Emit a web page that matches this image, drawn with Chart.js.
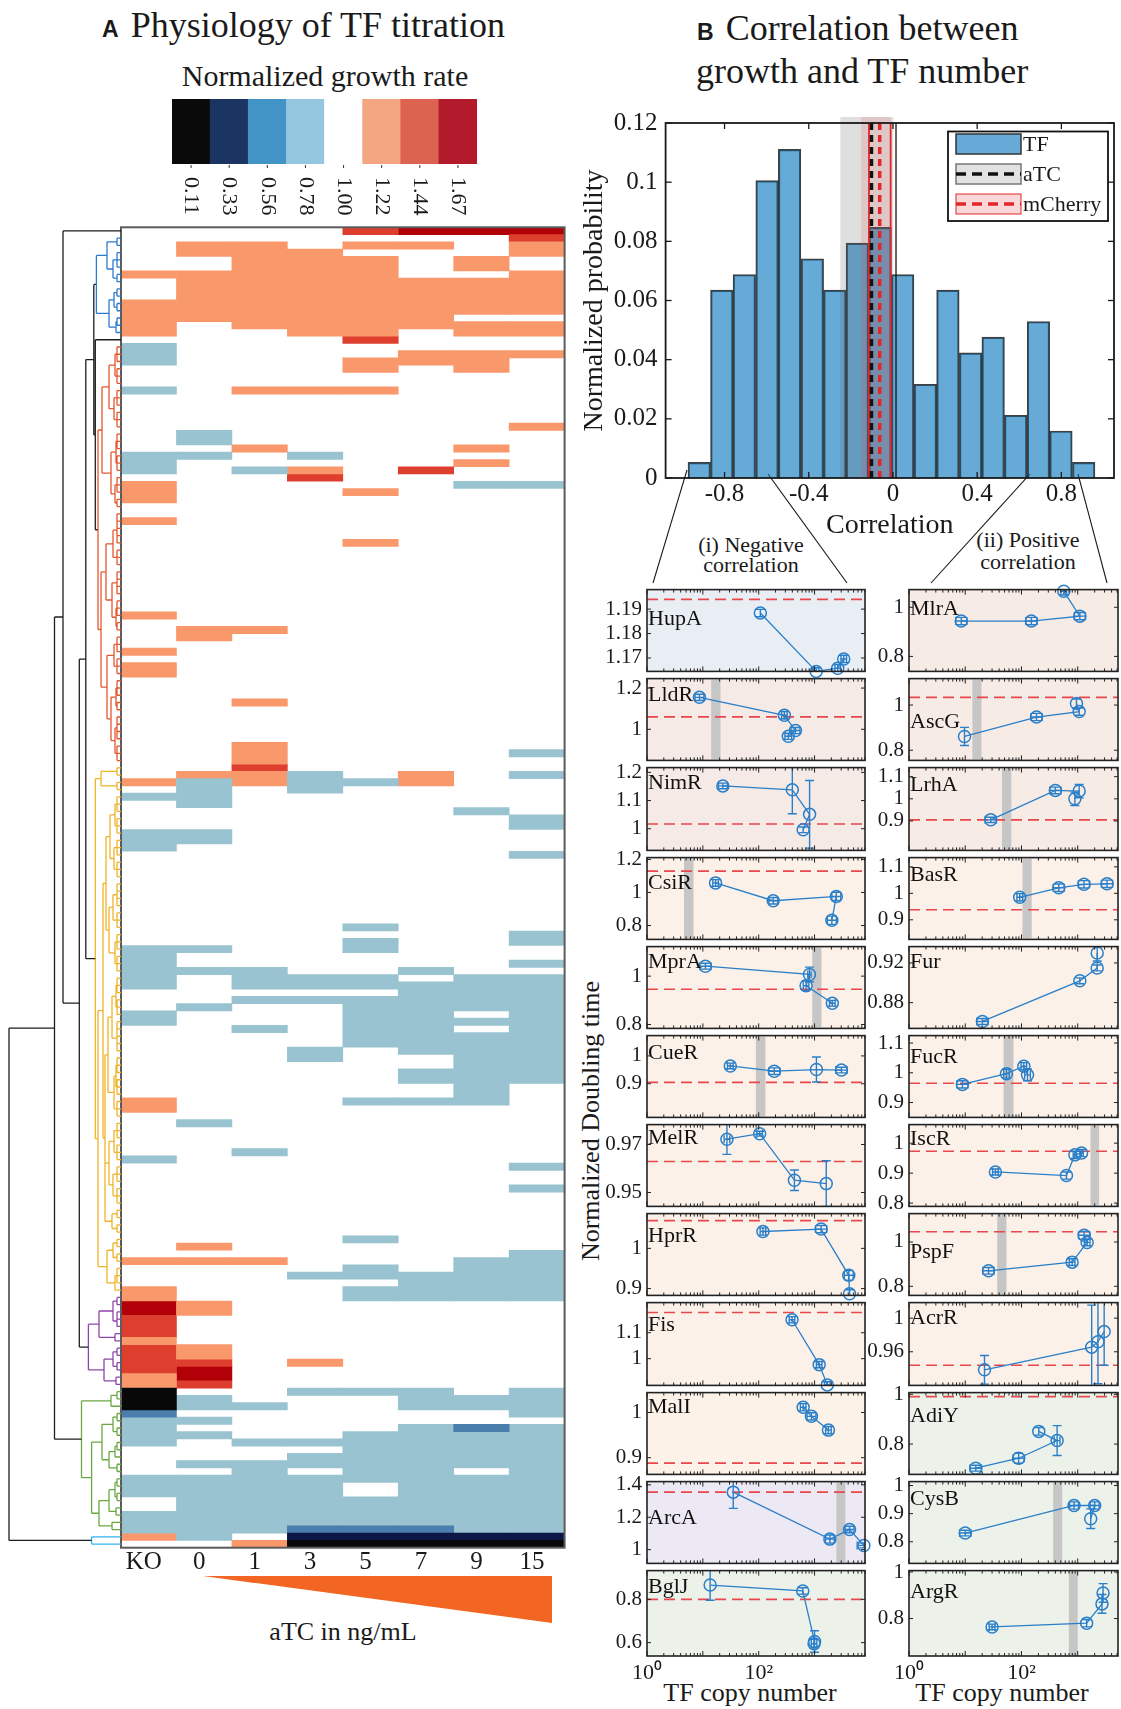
<!DOCTYPE html>
<html>
<head>
<meta charset="utf-8">
<title>TF titration</title>
<script src="https://cdn.jsdelivr.net/npm/chart.js@4.4.1/dist/chart.umd.min.js"></script>
<style>
  html, body { margin: 0; padding: 0; background: #fff; }
  #page { position: relative; width: 1121px; height: 1709px; overflow: hidden; background: #fff;
          font-family: "Liberation Serif", "Times New Roman", serif; color: #1a1a1a; }
  #page canvas { position: absolute; }
  .txt { position: absolute; white-space: nowrap; line-height: 1; }
  .mid { transform: translateX(-50%); }
  .tag { font-family: "Liberation Sans", Arial, sans-serif; font-weight: bold; font-size: 23px; margin-right: 12px; }
</style>
</head>
<body>
<div id="page">
  <svg width="1121" height="1709" style="position:absolute;left:0;top:0">
    <g stroke="#1a1a1a" stroke-width="1.1">
      <line x1="687" y1="470" x2="653" y2="583"/>
      <line x1="768" y1="474" x2="847" y2="583"/>
      <line x1="1030" y1="474" x2="931" y2="583"/>
      <line x1="1078" y1="474" x2="1107" y2="583"/>
    </g>
    <polygon points="203,1576 552,1576 552,1623" fill="#f26522"/>
  </svg>
  <div class="txt" style="left:102px;top:7px;font-size:36px"><span class="tag">A</span>Physiology of TF titration</div>
  <div class="txt mid" style="left:325px;top:61px;font-size:30px">Normalized growth rate</div>
  <div class="txt" style="left:697px;top:10px;font-size:36px"><span class="tag">B</span>Correlation between</div>
  <div class="txt" style="left:696px;top:53px;font-size:36px">growth and TF number</div>
  <div class="txt mid" style="left:751px;top:534px;font-size:22px">(i) Negative</div>
  <div class="txt mid" style="left:751px;top:554px;font-size:22px">correlation</div>
  <div class="txt mid" style="left:1028px;top:529px;font-size:22px">(ii) Positive</div>
  <div class="txt mid" style="left:1028px;top:551px;font-size:22px">correlation</div>
  <div class="txt mid" style="left:343px;top:1619px;font-size:26px">aTC in ng/mL</div>
  <div class="txt mid" style="left:750px;top:1680px;font-size:26px">TF copy number</div>
  <div class="txt mid" style="left:1002px;top:1680px;font-size:26px">TF copy number</div>
  <div class="txt" style="left:591px;top:1121px;font-size:26px;transform:translate(-50%,-50%) rotate(-90deg)">Normalized Doubling time</div>
</div>

<script>
// ---------- A: growth-rate heat map ----------
const levelTicks = ['0.11', '0.33', '0.56', '0.78', '1.00', '1.22', '1.44', '1.67'];
const concLabels = ['KO', '0', '1', '3', '5', '7', '9', '15'];
const nRows = 182;

// runs per aTC column: [first row, end row (exclusive), level index into levelTicks]
const colKO = [[6,7,5],[10,15,5],[16,19,3],[22,23,3],[31,34,3],[35,38,5],[40,41,5],[53,54,5],[58,59,5],[60,62,5],
  [76,77,5],[78,79,3],[83,86,3],[99,105,3],[108,110,3],[120,122,5],[128,129,3],[142,143,5],[146,148,5],[148,150,7],
  [150,153,6],[153,154,5],[154,158,6],[158,160,5],[160,163,0],[163,164,2],[164,168,3],[172,175,3],[177,180,3],[180,181,5]];
const col0 = [[2,4,5],[6,13,5],[28,30,3],[31,32,3],[55,57,5],[75,76,5],[76,80,3],[83,85,3],[99,100,3],[102,103,3],
  [107,108,3],[123,124,3],[140,141,5],[142,143,5],[148,150,5],[154,156,5],[156,157,6],[157,159,7],[159,160,6],
  [161,163,3],[164,165,3],[166,167,3],[170,171,3],[172,181,3]];
const col1 = [[2,14,5],[22,23,5],[30,31,5],[33,34,3],[55,56,5],[65,66,5],[71,74,5],[74,75,6],[75,77,5],[102,105,3],
  [106,107,3],[110,111,3],[127,128,3],[142,143,5],[162,163,3],[167,168,3],[170,180,3],[181,182,5]];
const col3 = [[3,15,5],[22,23,5],[31,32,3],[33,34,5],[34,35,6],[75,78,3],[103,105,3],[106,107,3],[113,115,3],
  [144,145,3],[156,157,5],[160,161,3],[167,168,3],[169,171,3],[172,179,3],[179,180,2],[180,181,1],[181,182,0]];
const col5 = [[0,1,6],[2,3,5],[4,15,5],[15,16,6],[18,20,5],[22,23,5],[36,37,5],[43,44,5],[76,77,3],[96,97,3],
  [98,100,3],[103,105,3],[106,113,3],[120,121,3],[139,140,3],[143,145,3],[146,148,3],[160,161,3],[166,173,3],
  [175,179,3],[179,180,2],[180,181,1],[181,182,0]];
const col7 = [[0,1,7],[2,3,5],[7,14,5],[17,19,5],[33,34,6],[75,77,5],[102,103,3],[104,114,3],[116,118,3],[120,121,3],
  [144,148,3],[160,163,3],[165,179,3],[179,180,2],[180,181,1],[181,182,0]];
const col9 = [[0,1,7],[4,6,5],[7,12,5],[13,15,5],[17,20,5],[30,31,5],[32,33,5],[35,36,3],[80,81,3],[103,108,3],
  [109,110,3],[111,121,3],[142,148,3],[161,163,3],[165,166,2],[166,171,3],[172,180,3],[180,181,1],[181,182,0]];
const col15 = [[0,1,7],[1,2,6],[2,4,5],[6,12,5],[13,15,5],[17,18,5],[27,28,5],[35,36,3],[72,73,3],[75,76,3],
  [81,83,3],[86,87,3],[97,99,3],[101,102,3],[103,118,3],[129,130,3],[132,133,3],[141,148,3],[160,164,3],
  [165,180,3],[180,181,1],[181,182,0]];

// dendrogram: [link height, children...]; a number n = n neighbouring leaves joined just above the leaves
const treeTop = [112, [66.5, [58, 1, [41.7, [35.2, [27.2, 'blue', [25.7, 1, 'red']], 'yellow'], 'purple']], 'green'], 'cyan'];
const treeBlue = [24.6, [14, 2, [8, 3, 2]], [12, [7, 2, 2], [5, 2, 1]]];
const treeRed = [23, [19, [12, [6, 3, 3], [7, 3, 3]], [10, [5, 3, 3], [6, 3, 2]]],
  [20, [15, [8, [4, 3, 2], 3], [9, 4, [5, 3, 2]]], [14, [7, 3, 3], [10, [5, 3, 2], [6, 4, 3]]]]];
const treeYellow = [25.7, [20, 2, 2], [23,
  [18, [15, [11, [6, 3, 3], [7, 3, 3]], [12, [8, [4, 2, 2], 3], [6, 3, 3]]],
       [16, [13, [9, [5, 3, 3], [4, 3, 2]], [7, [5, 3, 3], 3]], [12, [7, 3, 3], [8, 3, 3]], [9, 2, 2]]],
  [14, [8, 2, 2], [6, 3, 1]]]];
const treePurple = [32.6, [22, [8, 2, [4, 2, 1]], [6, 1, 1]], [17, [8, 2, 2], [5, 1, 1]]];
const treeGreen = [39.5, [10, 2, 1], [29.4, [19, [8, 2, 2], [12, [6, 2, 1], 2]], [22, [12, [6, 2, 2], [5, 1, 1]], [9, 1, 1]]]];
const treeCyan = [29.4, 1, 1];

// ---------- B: histogram ----------
const corrBins = [-0.920, -0.813, -0.706, -0.598, -0.491, -0.383, -0.276, -0.169, -0.061,
                  0.046, 0.154, 0.261, 0.369, 0.476, 0.583, 0.691, 0.798, 0.906];
const corrProb = [0.0053, 0.0635, 0.0688, 0.1005, 0.1111, 0.0741, 0.0635, 0.0794, 0.0847,
                  0.0688, 0.0317, 0.0635, 0.0423, 0.0476, 0.0212, 0.0529, 0.0159, 0.0053];
const corrTicks = [-0.8, -0.4, 0, 0.4, 0.8];
const probTicks = [0, 0.02, 0.04, 0.06, 0.08, 0.1, 0.12];
const atcBand = [-0.250, 0.002];
const atcMean = -0.102;
const atcEdge = 0.0145;
const mchBand = [-0.151, -0.009];
const mchEdges = [-0.114, -0.011];
const mchMean = -0.063;

// ---------- B: doubling time vs TF copy number ----------
const leftNames = ['HupA', 'LldR', 'NimR', 'CsiR', 'MprA', 'CueR', 'MelR', 'HprR', 'Fis', 'MalI', 'ArcA', 'BglJ'];
const leftCopies = [[107, 1070, 2600, 3330], [8.7, 288, 455, 339], [22.8, 400, 815, 625], [16.9, 182, 2450, 2040],
  [11.1, 810, 705, 2080], [31, 190, 1080, 3030], [27, 104, 436, 1620], [119, 1310, 4100, 4230],
  [395, 1210, 1690], [625, 880, 1770], [35, 1880, 4230, 7640], [13.5, 615, 1000, 980]];
const leftDoubling = [[1.1884, 1.1645, 1.1658, 1.1696], [1.155, 1.068, 0.994, 0.966], [1.152, 1.138, 1.051, 0.996],
  [1.058, 0.95, 0.976, 0.832], [1.041, 1.007, 0.96, 0.888], [0.964, 0.945, 0.951, 0.949],
  [0.9722, 0.9745, 0.9551, 0.9537], [1.042, 1.048, 0.933, 0.887], [1.15, 0.977, 0.899],
  [1.0116, 0.9915, 0.961], [1.355, 1.065, 1.124, 1.026], [0.866, 0.839, 0.605, 0.595]];
const leftDoublingErr = [[0.0015, 0.0015, 0.0015, 0.0015], [0.015, 0.018, 0.015, 0.015], [0.01, 0.085, 0.12, 0.01],
  [0.02, 0.02, 0.025, 0.025], [0.012, 0.03, 0.02, 0.012], [0.01, 0.012, 0.045, 0.01],
  [0.0063, 0.001, 0.0043, 0.0095], [0.009, 0.009, 0.012, 0.01], [0.012, 0.012, 0.012],
  [0.008, 0.008, 0.008], [0.1, 0.025, 0.02, 0.015], [0.07, 0.015, 0.05, 0.02]];
const leftCopyErr = [[0, 0.05, 0.05, 0.05], [0.08, 0.05, 0.08, 0.06], [0.08, 0, 0, 0], [0.05, 0.08, 0.08, 0.08],
  [0.1, 0.03, 0.05, 0.05], [0.05, 0.1, 0, 0.1], [0.05, 0.05, 0, 0], [0.05, 0.1, 0.08, 0],
  [0.05, 0.05, 0.05], [0.05, 0.08, 0.05], [0, 0.08, 0.08, 0.12], [0, 0, 0, 0.05]];
const leftRef = [1.194, 1.06, 1.017, 1.129, 0.946, 0.905, 0.9629, 1.069, 1.178, 0.888, 1.355, 0.8];
const leftBand = [null, [14.1, 20.7], null, [4.6, 6.8], [910, 1330], [89, 132], null, null, null, null, [2460, 3560], null];
const leftYTicks = [[1.17, 1.18, 1.19], [1, 1.2], [1, 1.1, 1.2], [0.8, 1, 1.2], [0.8, 1], [0.9, 1],
  [0.95, 0.97], [0.9, 1], [1, 1.1], [0.9, 1], [1, 1.2, 1.4], [0.6, 0.8]];
const leftYRange = [[1.1645, 1.198], [0.849, 1.246], [0.923, 1.217], [0.716, 1.211], [0.784, 1.122], [0.779, 1.073],
  [0.9442, 0.9783], [0.883, 1.0865], [0.897, 1.216], [0.863, 1.044], [0.915, 1.42], [0.538, 0.933]];

const rightNames = ['MlrA', 'AscG', 'LrhA', 'BasR', 'Fur', 'FucR', 'IscR', 'PspF', 'AcrR', 'AdiY', 'CysB', 'ArgR'];
const rightCopies = [[8.5, 150, 1090, 565], [9.7, 185, 1060, 950], [28.4, 400, 1060, 890], [93, 460, 1290, 3320],
  [20.2, 1090, 2220, 2220], [8.9, 54, 110, 128], [34.4, 630, 890, 1170], [25.9, 795, 1470, 1300],
  [22, 1770, 2290, 2950], [15.4, 89, 430, 203], [10, 860, 2000, 1700], [30, 1440, 2700, 2820]];
const rightDoubling = [[0.944, 0.944, 0.964, 1.065], [0.861, 0.947, 0.971, 1.007], [0.905, 1.038, 1.035, 1.0],
  [0.985, 1.021, 1.034, 1.036], [0.861, 0.902, 0.915, 0.93], [0.961, 0.997, 1.022, 0.993],
  [0.904, 0.892, 0.961, 0.967], [0.87, 0.909, 0.998, 1.03], [0.9385, 0.9655, 0.972, 0.984],
  [0.703, 0.743, 0.814, 0.851], [0.831, 0.929, 0.929, 0.882], [0.764, 0.78, 0.863, 0.91]];
const rightDoublingErr = [[0.015, 0.015, 0.015, 0.015], [0.04, 0.016, 0.016, 0.02], [0.012, 0.015, 0.03, 0.03],
  [0.014, 0.014, 0.014, 0.014], [0.003, 0.003, 0.003, 0.008], [0.012, 0.015, 0.012, 0.02],
  [0.01, 0.012, 0.012, 0.012], [0.015, 0.015, 0.015, 0.017], [0.017, 0.05, 0.05, 0.04],
  [0.012, 0.02, 0.06, 0.015], [0.01, 0.013, 0.013, 0.035], [0.012, 0.016, 0.04, 0.04]];
const rightCopyErr = [[0.1, 0.1, 0.1, 0.05], [0, 0.1, 0, 0], [0.1, 0.1, 0, 0], [0.05, 0.1, 0.1, 0.1],
  [0.1, 0, 0, 0], [0.1, 0.05, 0.05, 0.05], [0.05, 0, 0.03, 0.03], [0.1, 0.05, 0.05, 0.1],
  [0, 0, 0, 0], [0.1, 0.1, 0.05, 0], [0.1, 0.08, 0.08, 0], [0.05, 0, 0, 0]];
const rightRef = [null, 1.034, 0.905, 0.938, null, 0.965, 0.973, 1.046, 0.944, 0.991, null, null];
const rightBand = [null, [13.4, 19.4], [45, 66], [104, 152], null, [48, 72], [1690, 2400], [37, 54], null, null, [365, 530], [695, 1000]];
const rightYTicks = [[0.8, 1], [0.8, 1], [0.9, 1, 1.1], [0.9, 1, 1.1], [0.88, 0.92], [0.9, 1, 1.1],
  [0.8, 0.9, 1], [0.8, 1], [0.96, 1], [0.8, 1], [0.8, 0.9, 1], [0.8, 1]];
const rightYRange = [[0.739, 1.072], [0.755, 1.117], [0.767, 1.141], [0.826, 1.135], [0.854, 0.9365], [0.85, 1.125],
  [0.789, 1.062], [0.759, 1.128], [0.92, 1.0185], [0.678, 1.007], [0.723, 1.014], [0.639, 1.006]];
const copyTicks = [1, 100];
const copyTickLabels = ['10\u2070', '10\u00b2'];

// ---------- styling ----------
const barColors = ['#0a0a0a', '#1c3461', '#4394c6', '#94c6e0', '#ffffff', '#f4a582', '#dc6350', '#b31b2c'];
const heatColors = ['#080808', '#0d1747', '#4a7fad', '#99c3d0', '#ffffff', '#f8986b', '#de3e2e', '#b10008'];
const treeColors = { black: '#1e1e1e', blue: '#2b7bcf', red: '#e5572e', yellow: '#f0b428', purple: '#8f45a6', green: '#6aa842', cyan: '#35b4ee' };
const clusterTrees = { blue: treeBlue, red: treeRed, yellow: treeYellow, purple: treePurple, green: treeGreen, cyan: treeCyan };
const leftBg = ['#e9eef5', '#f6eae6', '#f6eae6', '#fcf1e8', '#fcf1e8', '#fcf1e8', '#fcf1e8', '#fcf1e8', '#fcf1e8', '#fcf2e8', '#ece9f4', '#ecf2ea'];
const rightBg = ['#f7ebe6', '#f7ebe6', '#f7ebe6', '#fcf1e8', '#fcf1e8', '#fcf1e8', '#fcf1e8', '#fcf1e8', '#fcf1e8', '#ecf2ea', '#ecf2ea', '#ecf2ea'];
const leftLabelDy = [30, 17, 16, 26, 16, 18, 14, 23, 23, 15, 37, 17];
const rightLabelDy = [20, 44, 18, 18, 16, 22, 15, 39, 16, 24, 18, 22];
const lineBlue = '#2a7fc9';
const refRed = '#e8474c';
const serif = '"Liberation Serif", "Times New Roman", serif';

Chart.defaults.font.family = serif;
Chart.defaults.color = '#1a1a1a';
Chart.defaults.animation = false;
Chart.defaults.plugins.legend.display = false;
Chart.defaults.plugins.tooltip.enabled = false;

const page = document.getElementById('page');
function makeCanvas(left, top, w, h, z) {
  const c = document.createElement('canvas');
  c.width = Math.round(w);
  c.height = Math.round(h);
  c.style.left = left + 'px';
  c.style.top = top + 'px';
  c.style.width = Math.round(w) + 'px';
  c.style.height = Math.round(h) + 'px';
  if (z) c.style.zIndex = z;
  page.appendChild(c);
  return c;
}
const fmt = v => String(Math.round(v * 100) / 100);
function seg(ctx, x0, y0, x1, y1) {
  ctx.beginPath();
  ctx.moveTo(x0, y0);
  ctx.lineTo(x1, y1);
  ctx.stroke();
}
function frameOnly(color, width) {
  return {
    id: 'frameOnly',
    afterDraw(chart) {
      const { ctx, chartArea: a } = chart;
      ctx.save();
      ctx.strokeStyle = color;
      ctx.lineWidth = width;
      ctx.strokeRect(a.left, a.top, a.right - a.left, a.bottom - a.top);
      ctx.restore();
    }
  };
}

// colour bar with rotated labels
const colorbarLabels = {
  id: 'colorbarLabels',
  afterDraw(chart) {
    const { ctx, chartArea: a, scales: { x } } = chart;
    ctx.save();
    ctx.strokeStyle = '#333';
    ctx.lineWidth = 1;
    ctx.fillStyle = '#1a1a1a';
    ctx.font = '22px ' + serif;
    ctx.textAlign = 'left';
    ctx.textBaseline = 'middle';
    levelTicks.forEach((t, i) => {
      const px = x.getPixelForValue(i);
      seg(ctx, px, a.bottom + 1, px, a.bottom + 4);
      ctx.save();
      ctx.translate(px, a.bottom + 13);
      ctx.rotate(Math.PI / 2);
      ctx.fillText(t, 0, 0);
      ctx.restore();
    });
    ctx.restore();
  }
};
new Chart(makeCanvas(172, 99, 305, 125), {
  type: 'bar',
  data: { labels: levelTicks, datasets: [{ data: levelTicks.map(() => 1), backgroundColor: barColors, borderWidth: 0, barPercentage: 1, categoryPercentage: 1 }] },
  options: {
    responsive: false,
    layout: { padding: { bottom: 60 } },
    scales: { x: { display: false }, y: { display: false, min: 0, max: 1 } }
  },
  plugins: [colorbarLabels]
});

// heat map: floating bars per colour level
const heatColumns = [colKO, col0, col1, col3, col5, col7, col9, col15];
const heatSets = heatColors.map((c, lvl) => ({
  data: heatColumns.flatMap((runs, ci) => runs.filter(r => r[2] === lvl).map(r => ({ x: concLabels[ci], y: [r[0], r[1]] }))),
  backgroundColor: c,
  borderWidth: 0,
  grouped: false,
  barPercentage: 1,
  categoryPercentage: 1
})).filter(s => s.data.length);

new Chart(makeCanvas(100, 217, 480, 1371), {
  type: 'bar',
  data: { labels: concLabels, datasets: heatSets },
  options: {
    responsive: false,
    layout: { padding: { left: 21, right: 15.4, top: 10.3, bottom: 0 } },
    scales: {
      x: {
        grid: { display: false, drawTicks: false }, border: { display: false },
        ticks: { font: { size: 25 }, color: '#1a1a1a', padding: 0, labelOffset: -5, maxRotation: 0, autoSkip: false },
        afterFit: s => { s.height = 40.3; }
      },
      y: { display: false, min: 0, max: nRows, reverse: true }
    }
  },
  plugins: [frameOnly('#5b5b5b', 2)]
});

// dendrogram from the nested link lists
const treeSegs = {};
let leafRow = 0;
const leafJoin = 4;
function addSeg(color, x0, y0, x1, y1) {
  (treeSegs[color] = treeSegs[color] || []).push({ x: x0, y: y0 }, { x: x1, y: y1 }, { x: null, y: null });
}
function layoutTree(node, color) {
  if (typeof node === 'string') return layoutTree(clusterTrees[node], node);
  if (typeof node === 'number') {
    const ys = [];
    for (let k = 0; k < node; k++) ys.push(leafRow++ + 0.5);
    if (node === 1) return { y: ys[0], d: 0 };
    ys.forEach(y => addSeg(color, 0, y, leafJoin, y));
    addSeg(color, leafJoin, ys[0], leafJoin, ys[ys.length - 1]);
    return { y: (ys[0] + ys[ys.length - 1]) / 2, d: leafJoin };
  }
  const [h, ...kids] = node;
  const pos = kids.map(k => layoutTree(k, color));
  pos.forEach(p => addSeg(color, p.d, p.y, h, p.y));
  addSeg(color, h, pos[0].y, h, pos[pos.length - 1].y);
  return { y: (pos[0].y + pos[pos.length - 1].y) / 2, d: h };
}
layoutTree(treeTop, 'black');

new Chart(makeCanvas(0, 217, 121, 1331), {
  type: 'line',
  data: {
    datasets: Object.keys(treeSegs).map(c => ({
      data: treeSegs[c], borderColor: treeColors[c], borderWidth: 1.3, pointRadius: 0, spanGaps: false, tension: 0
    }))
  },
  options: {
    responsive: false,
    layout: { padding: { top: 10.3, bottom: 0.3 } },
    scales: {
      x: { type: 'linear', display: false, min: 0, max: 121, reverse: true },
      y: { type: 'linear', display: false, min: 0, max: nRows, reverse: true }
    }
  }
});

// histogram of correlations
const histDecor = {
  id: 'histDecor',
  afterDatasetsDraw(chart) {
    const { ctx, chartArea: a, scales: { x } } = chart;
    const px = v => x.getPixelForValue(v);
    const top = a.top - 6, h = a.bottom - top;
    ctx.save();
    ctx.fillStyle = 'rgba(95,95,95,0.2)';
    ctx.fillRect(px(atcBand[0]), top, px(atcBand[1]) - px(atcBand[0]), h);
    ctx.fillStyle = 'rgba(225,60,60,0.15)';
    ctx.fillRect(px(mchBand[0]), top, px(mchBand[1]) - px(mchBand[0]), h);
    ctx.strokeStyle = '#e3262a';
    ctx.lineWidth = 1.8;
    mchEdges.forEach(v => seg(ctx, px(v), a.top, px(v), a.bottom));
    ctx.strokeStyle = '#111';
    ctx.lineWidth = 1.3;
    seg(ctx, px(atcEdge), a.top, px(atcEdge), a.bottom);
    ctx.lineWidth = 3.5;
    ctx.setLineDash([7, 5]);
    seg(ctx, px(atcMean), a.top, px(atcMean), a.bottom);
    ctx.strokeStyle = '#e3262a';
    seg(ctx, px(mchMean), a.top, px(mchMean), a.bottom);
    ctx.restore();
  },
  afterDraw(chart) {
    const { ctx, chartArea: a, scales: { x, y } } = chart;
    ctx.save();
    ctx.strokeStyle = '#1a1a1a';
    ctx.lineWidth = 1.3;
    corrTicks.forEach(v => {
      const p = x.getPixelForValue(v);
      seg(ctx, p, a.bottom, p, a.bottom - 6);
      seg(ctx, p, a.top, p, a.top + 6);
    });
    probTicks.forEach(v => {
      const p = y.getPixelForValue(v);
      seg(ctx, a.left, p, a.left + 6, p);
      seg(ctx, a.right, p, a.right - 6, p);
    });
    ctx.lineWidth = 1.8;
    ctx.strokeRect(a.left, a.top, a.right - a.left, a.bottom - a.top);
    // legend
    const lx = a.right - 166, ly = a.top + 8.5, lw = 160, lh = 89.5;
    ctx.fillStyle = '#fff';
    ctx.fillRect(lx, ly, lw, lh);
    ctx.strokeStyle = '#111';
    ctx.strokeRect(lx, ly, lw, lh);
    const rows = [ly + 12.5, ly + 42.5, ly + 72.5];
    const rx = lx + 8, rw = 65, rh = 20;
    ctx.lineWidth = 1.5;
    ctx.fillStyle = 'rgba(0,114,189,0.6)';
    ctx.fillRect(rx, rows[0] - rh / 2, rw, rh);
    ctx.strokeStyle = '#333';
    ctx.strokeRect(rx, rows[0] - rh / 2, rw, rh);
    ctx.fillStyle = '#e2e2e2';
    ctx.fillRect(rx, rows[1] - rh / 2, rw, rh);
    ctx.strokeStyle = '#777';
    ctx.strokeRect(rx, rows[1] - rh / 2, rw, rh);
    ctx.fillStyle = 'rgba(245,200,200,0.7)';
    ctx.fillRect(rx, rows[2] - rh / 2, rw, rh);
    ctx.strokeStyle = '#e3262a';
    ctx.lineWidth = 1;
    ctx.strokeRect(rx, rows[2] - rh / 2, rw, rh);
    ctx.lineWidth = 3.5;
    ctx.setLineDash([10, 6]);
    ctx.strokeStyle = '#111';
    seg(ctx, rx, rows[1], rx + rw, rows[1]);
    ctx.strokeStyle = '#e3262a';
    seg(ctx, rx, rows[2], rx + rw, rows[2]);
    ctx.setLineDash([]);
    ctx.fillStyle = '#1a1a1a';
    ctx.font = '22px ' + serif;
    ctx.textBaseline = 'middle';
    ['TF', 'aTC', 'mCherry'].forEach((t, i) => ctx.fillText(t, rx + rw + 2, rows[i] + 1));
    ctx.restore();
  }
};

new Chart(makeCanvas(570, 100, 551, 446), {
  type: 'bar',
  data: {
    datasets: [{
      data: corrBins.map((c, i) => ({ x: c, y: corrProb[i] })),
      backgroundColor: 'rgba(0,114,189,0.6)',
      borderColor: 'rgba(30,30,30,0.85)',
      borderWidth: 1.5,
      barPercentage: 1,
      categoryPercentage: 1
    }]
  },
  options: {
    responsive: false,
    layout: { padding: { top: 21, right: 7, left: 0, bottom: 0 } },
    scales: {
      x: {
        type: 'linear', min: -1.08, max: 1.05, offset: false,
        grid: { display: false, drawTicks: false }, border: { display: false },
        afterBuildTicks: s => { s.ticks = corrTicks.map(v => ({ value: v })); },
        ticks: { font: { size: 25 }, color: '#1a1a1a', padding: 1, maxRotation: 0, autoSkip: false, callback: v => fmt(v) },
        title: { display: true, text: 'Correlation', font: { size: 28 }, color: '#1a1a1a', padding: { top: 0, bottom: 4 } },
        afterFit: s => { s.height = 68; }
      },
      y: {
        min: 0, max: 0.12,
        grid: { display: false, drawTicks: false }, border: { display: false },
        afterBuildTicks: s => { s.ticks = probTicks.map(v => ({ value: v })); },
        ticks: { font: { size: 25 }, color: '#1a1a1a', padding: 8, autoSkip: false, callback: v => fmt(v) },
        title: { display: true, text: 'Normalized probability', font: { size: 28 }, color: '#1a1a1a', padding: { top: 8, bottom: 0 } },
        afterFit: s => { s.width = 95.6; }
      }
    }
  },
  plugins: [histDecor]
});

// small panels
const panelDecor = {
  id: 'panelDecor',
  beforeDatasetsDraw(chart, args, o) {
    const { ctx, chartArea: a, scales: { x, y } } = chart;
    ctx.save();
    ctx.fillStyle = o.bg;
    ctx.fillRect(a.left, a.top, a.right - a.left, a.bottom - a.top);
    if (o.band) {
      const x0 = x.getPixelForValue(o.band[0]), x1 = x.getPixelForValue(o.band[1]);
      ctx.fillStyle = '#c6c6c6';
      ctx.fillRect(x0, a.top + 1, x1 - x0, a.bottom - a.top - 2);
    }
    if (o.ref !== null && o.ref !== undefined) {
      const py = y.getPixelForValue(o.ref);
      ctx.strokeStyle = refRed;
      ctx.lineWidth = 1.6;
      ctx.setLineDash([11, 6]);
      seg(ctx, a.left, py, a.right, py);
    }
    ctx.restore();
  },
  afterDatasetsDraw(chart, args, o) {
    const { ctx, chartArea: a, scales: { x, y } } = chart;
    const pts = chart.data.datasets[0].data;
    ctx.save();
    ctx.beginPath();
    ctx.rect(a.left, a.top, a.right - a.left, a.bottom - a.top);
    ctx.clip();
    ctx.strokeStyle = lineBlue;
    ctx.lineWidth = 1.4;
    pts.forEach((p, j) => {
      const px = x.getPixelForValue(p.x), py = y.getPixelForValue(p.y);
      const e = o.yErr[j];
      if (e) {
        const y0 = y.getPixelForValue(p.y - e), y1 = y.getPixelForValue(p.y + e);
        seg(ctx, px, y0, px, y1);
        seg(ctx, px - 4.5, y0, px + 4.5, y0);
        seg(ctx, px - 4.5, y1, px + 4.5, y1);
      }
      const ex = o.xErr[j];
      if (ex) {
        const x0 = x.getPixelForValue(p.x / Math.pow(10, ex)), x1 = x.getPixelForValue(p.x * Math.pow(10, ex));
        seg(ctx, x0, py, x1, py);
        seg(ctx, x0, py - 4, x0, py + 4);
        seg(ctx, x1, py - 4, x1, py + 4);
      }
    });
    ctx.restore();
  },
  afterDraw(chart, args, o) {
    const { ctx, chartArea: a, scales: { x, y } } = chart;
    ctx.save();
    ctx.strokeStyle = '#222';
    ctx.lineWidth = 1;
    for (let k = 0; k < 5; k++) {
      for (let m = 1; m < 10; m++) {
        const v = m * Math.pow(10, k);
        if (v > x.max) continue;
        const p = x.getPixelForValue(v);
        const len = m === 1 ? 5 : 3;
        seg(ctx, p, a.bottom, p, a.bottom - len);
        seg(ctx, p, a.top, p, a.top + len);
      }
    }
    y.ticks.forEach(t => {
      const p = y.getPixelForValue(t.value);
      seg(ctx, a.left, p, a.left + 4, p);
      seg(ctx, a.right, p, a.right - 4, p);
    });
    ctx.lineWidth = 1.6;
    ctx.strokeRect(a.left, a.top, a.right - a.left, a.bottom - a.top);
    ctx.fillStyle = '#111';
    ctx.font = '22px ' + serif;
    ctx.textBaseline = 'middle';
    ctx.fillText(o.name, a.left + 1, a.top + o.labelDy);
    ctx.restore();
  }
};

const panelTop = 586, panelBottom = 1656;
function drawPanel(c, i) {
  const step = (panelBottom - panelTop) / 12;
  const top = Math.round(panelTop + i * step);
  const h = Math.round(panelTop + (i + 1) * step) - top;
  const last = i === 11;
  const padTop = 14, padBottom = 14, axisW = 56, padRight = 8, xAxisH = 34;
  const ch = padTop + h + (last ? xAxisH : padBottom);
  const canvas = makeCanvas(c.left - axisW, top - padTop, axisW + c.width + padRight, ch, 100 - i);
  new Chart(canvas, {
    type: 'line',
    data: {
      datasets: [{
        data: c.copies[i].map((v, j) => ({ x: v, y: c.dt[i][j] })),
        borderColor: lineBlue, borderWidth: 1.3, tension: 0,
        pointRadius: 6, pointBorderWidth: 1.5, pointBorderColor: lineBlue, pointBackgroundColor: 'rgba(0,0,0,0)',
        clip: 9
      }]
    },
    options: {
      responsive: false,
      layout: { padding: { top: padTop, right: padRight, bottom: last ? 0 : padBottom, left: 0 } },
      scales: {
        x: {
          type: 'logarithmic', min: 1, max: c.xMax, display: last,
          grid: { display: false, drawTicks: false }, border: { display: false },
          afterBuildTicks: s => { s.ticks = copyTicks.map(v => ({ value: v })); },
          ticks: { font: { size: 22 }, color: '#1a1a1a', padding: 4, maxRotation: 0, autoSkip: false,
                   callback: v => copyTickLabels[copyTicks.indexOf(v)] || '' },
          afterFit: s => { s.height = last ? xAxisH : 0; }
        },
        y: {
          min: c.range[i][0], max: c.range[i][1],
          grid: { display: false, drawTicks: false }, border: { display: false },
          afterBuildTicks: s => { s.ticks = c.ticks[i].map(v => ({ value: v })); },
          ticks: { font: { size: 21 }, color: '#1a1a1a', padding: 5, autoSkip: false, callback: v => fmt(v) },
          afterFit: s => { s.width = axisW; }
        }
      },
      plugins: {
        panelDecor: {
          bg: c.bg[i], band: c.band[i], ref: c.ref[i], name: c.names[i], labelDy: c.dy[i],
          yErr: c.dtErr[i], xErr: c.cpErr[i]
        }
      }
    },
    plugins: [panelDecor]
  });
}
const panelColumns = [
  { names: leftNames, copies: leftCopies, dt: leftDoubling, dtErr: leftDoublingErr, cpErr: leftCopyErr, ref: leftRef,
    band: leftBand, ticks: leftYTicks, range: leftYRange, bg: leftBg, dy: leftLabelDy, left: 647, width: 218, xMax: 8000 },
  { names: rightNames, copies: rightCopies, dt: rightDoubling, dtErr: rightDoublingErr, cpErr: rightCopyErr, ref: rightRef,
    band: rightBand, ticks: rightYTicks, range: rightYRange, bg: rightBg, dy: rightLabelDy, left: 909, width: 209, xMax: 5200 }
];
panelColumns.forEach(c => { for (let i = 0; i < 12; i++) drawPanel(c, i); });
</script>
</body>
</html>
